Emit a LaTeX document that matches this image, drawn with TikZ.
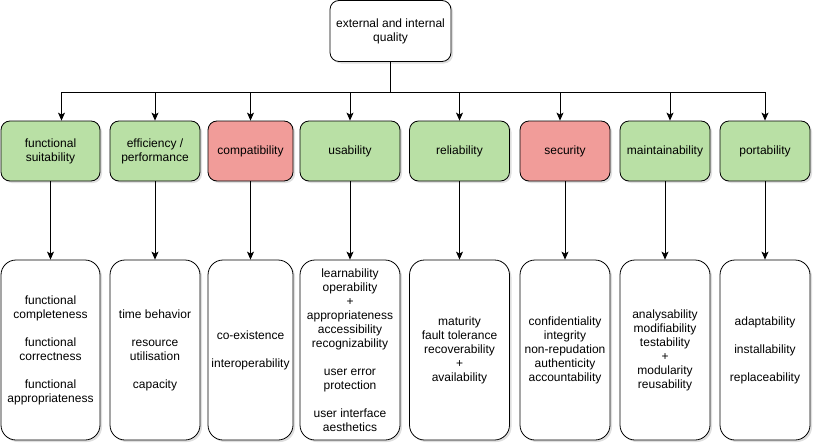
\documentclass[tikz,border=0pt]{standalone}
\usepackage{fontspec}
\setmainfont{Liberation Sans}
\usetikzlibrary{arrows.meta,shadows}
\definecolor{boxgreen}{HTML}{B9E0A5}
\definecolor{boxred}{HTML}{F19C99}
\tikzset{
  base/.style={draw=black, line width=0.8pt, rounded corners=9pt, align=center, inner sep=0pt,
    font=\fontsize{12}{14}\selectfont,
    drop shadow={opacity=0.25, shadow xshift=2pt, shadow yshift=-2pt}},
  topbox/.style={base, fill=white, minimum width=121pt, minimum height=61pt},
  midgreen/.style={base, fill=boxgreen, minimum height=60pt},
  midred/.style={base, fill=boxred, minimum height=60pt},
  leaf/.style={base, fill=white, minimum height=180pt, rounded corners=15pt},
  arr/.style={draw, line width=0.8pt, -{Stealth[length=8pt,width=7pt,inset=2pt]}}
}
\begin{document}
\begin{tikzpicture}[x=1pt,y=-1pt]
\useasboundingbox (0,0) rectangle (813,444);

\node[topbox] (top) at (390.5,31) {external and internal\\quality};

\node[midgreen, minimum width=99pt]  (m1) at (50.5,151) {functional\\suitability};
\node[midgreen, minimum width=90pt]  (m2) at (155,151) {efficiency /\\performance};
\node[midred,   minimum width=85pt]  (m3) at (250.5,151) {compatibility};
\node[midgreen, minimum width=100pt] (m4) at (350,151) {usability};
\node[midgreen, minimum width=100pt] (m5) at (459.5,151) {reliability};
\node[midred,   minimum width=90pt]  (m6) at (565,151) {security};
\node[midgreen, minimum width=90pt]  (m7) at (665,151) {maintainability};
\node[midgreen, minimum width=90pt]  (m8) at (765,151) {portability};

\node[leaf, minimum width=99pt]  (b1) at (50.5,350) {functional\\completeness\\[14pt]functional\\correctness\\[14pt]functional\\appropriateness};
\node[leaf, minimum width=90pt]  (b2) at (155,350) {time behavior\\[14pt]resource\\utilisation\\[14pt]capacity};
\node[leaf, minimum width=85pt]  (b3) at (250.5,350) {co-existence\\[14pt]interoperability};
\node[leaf, minimum width=100pt] (b4) at (350,350) {learnability\\operability\\+\\appropriateness\\accessibility\\recognizability\\[14pt]user error\\protection\\[14pt]user interface\\aesthetics};
\node[leaf, minimum width=100pt] (b5) at (459.5,350) {maturity\\fault tolerance\\recoverability\\+\\availability};
\node[leaf, minimum width=90pt]  (b6) at (565,350) {confidentiality\\integrity\\non-repudation\\authenticity\\accountability};
\node[leaf, minimum width=90pt]  (b7) at (665,350) {analysability\\modifiability\\testability\\+\\modularity\\reusability};
\node[leaf, minimum width=90pt]  (b8) at (765,350) {adaptability\\[14pt]installability\\[14pt]replaceability};

\draw[arr] (top.south) -- ++(0,30) -| ([xshift=11pt]m1.north);
\draw[arr] (top.south) -- ++(0,30) -| (m2.north);
\draw[arr] (top.south) -- ++(0,30) -| (m3.north);
\draw[arr] (top.south) -- ++(0,30) -| (m4.north);
\draw[arr] (top.south) -- ++(0,30) -| (m5.north);
\draw[arr] (top.south) -- ++(0,30) -| ([xshift=-5pt]m6.north);
\draw[arr] (top.south) -- ++(0,30) -| ([xshift=5pt]m7.north);
\draw[arr] (top.south) -- ++(0,30) -| (m8.north);

\foreach \i in {1,...,8} {
  \draw[arr] (m\i.south) -- (b\i.north);
}
\end{tikzpicture}
\end{document}
